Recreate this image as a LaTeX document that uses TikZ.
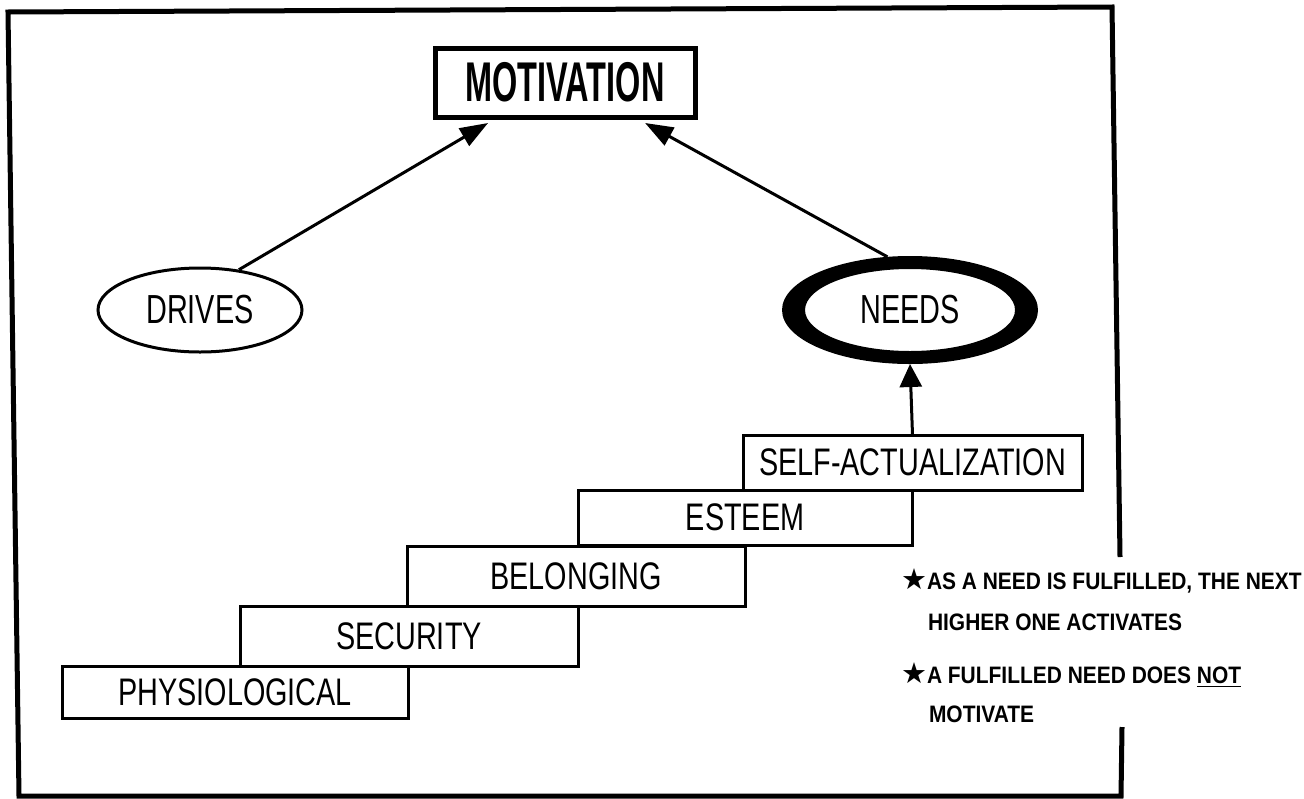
\documentclass[tikz,border=0pt]{standalone}
\usepackage{fontspec}
\usetikzlibrary{arrows.meta,shapes.geometric,calc}
% condensed faces built from Liberation Sans
\newfontfamily\labelfont[FakeStretch=0.75]{Liberation Sans}
\newfontfamily\titlefont[FakeStretch=0.58]{Liberation Sans}
\newfontfamily\ovalfont[FakeStretch=0.71]{Liberation Sans}
\newfontfamily\notefont[FakeStretch=0.88]{Liberation Sans}
\newfontfamily\starfont{DejaVu Sans}
\newcommand{\notestar}{{\starfont\fontsize{14.5pt}{16pt}\selectfont ★}}

\begin{document}
\begin{tikzpicture}[x=0.5pt,y=-0.5pt,
  framerule/.style={line width=2.5pt},
  stairbox/.style={draw, line width=1.5pt, rectangle, inner sep=0pt, outer sep=0pt,
    font=\labelfont\fontsize{19.2pt}{22pt}\selectfont},
  titlebox/.style={draw, line width=2.5pt, rectangle, inner sep=0pt, outer sep=0pt,
    font=\titlefont\bfseries\fontsize{28pt}{32pt}\selectfont},
  oval/.style={ellipse, inner sep=0pt, font=\ovalfont\fontsize{20.3pt}{24pt}\selectfont},
  note/.style={anchor=base west, inner sep=0pt, outer sep=0pt,
    font=\notefont\bfseries\fontsize{11.9pt}{14pt}\selectfont},
  conn/.style={line width=1.5pt, -{Triangle[length=14pt,width=10pt]}},
  upconn/.style={line width=1.5pt, -{Triangle[length=11.5pt,width=11pt]}}
]
% page area
\fill[white] (0,0) rectangle (1304,798);
\useasboundingbox (0,0) rectangle (1304,798);

% outer frame, open on the right beside the notes
\draw[framerule] (1122,727) -- (1121,796) -- (19,796) -- (8,12) -- (1112,7) -- (1120,557);

% top node
\node[titlebox, minimum width=130pt, minimum height=34.5pt] (motivation) at (565,82.5) {MOTIVATION};

% the two sources
\node[oval, draw, line width=1.5pt, minimum width=102pt, minimum height=42pt] (drives) at (200,310) {DRIVES};
\node[oval, outer sep=0pt, minimum width=128pt, minimum height=54pt] (needs) at (910,310) {NEEDS};
\fill[even odd rule] (needs.center) ellipse [x radius=64pt, y radius=27pt]
                     (needs.center) ellipse [x radius=52.5pt, y radius=20.5pt];

% staircase of needs
\node[stairbox, minimum width=173pt, minimum height=26pt] (phys) at (235,692) {PHYSIOLOGICAL};
\node[stairbox, minimum width=169pt, minimum height=30pt] (secu) at (409,636) {SECURITY};
\node[stairbox, minimum width=169pt, minimum height=30pt] (belo) at (576,576) {BELONGING};
\node[stairbox, minimum width=167pt, minimum height=27.5pt] (este) at (745,517.5) {ESTEEM};
\node[stairbox, minimum width=169.5pt, minimum height=27.5pt] (self) at (912.5,462.5) {SELF-ACTUALIZATION};

% connectors
\draw[conn] (drives.46) -- ([yshift=-3pt]$(motivation.south west)!0.204!(motivation.south east)$);
\draw[conn] (needs.113) -- ([yshift=-3pt]$(motivation.south west)!0.808!(motivation.south east)$);
\draw[upconn] (self.north) -- (needs.south);

% notes
\node[note] (n1) at (901,589) {\notestar AS A NEED IS FULFILLED, THE NEXT};
\node[note] (n2) at (928,630) {HIGHER ONE ACTIVATES};
\node[note] (n3) at (901,683) {\notestar A FULFILLED NEED DOES \underline{NOT}};
\node[note] (n4) at (929,722) {MOTIVATE};
\end{tikzpicture}
\end{document}
